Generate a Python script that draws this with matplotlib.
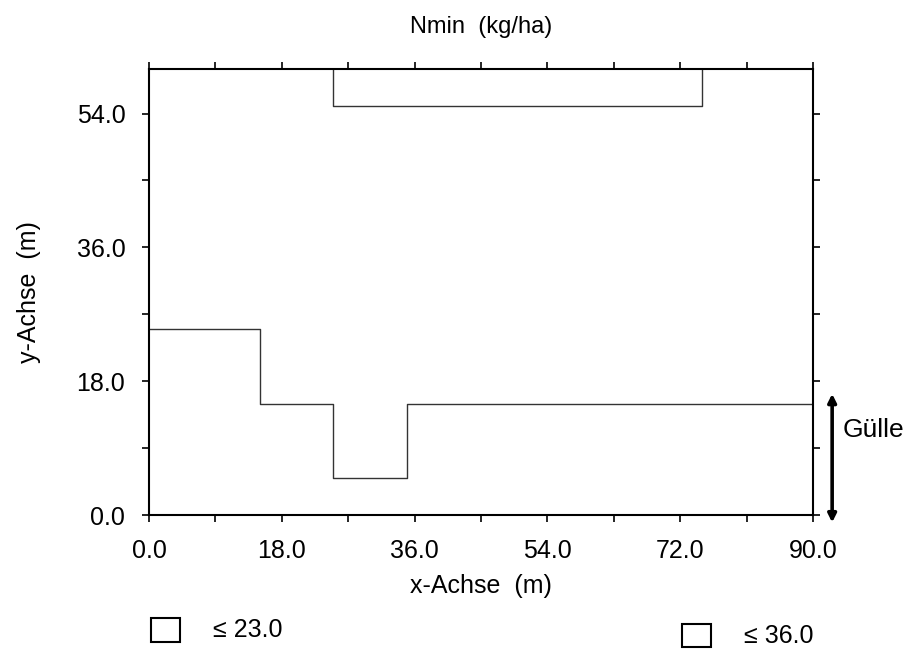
import matplotlib.pyplot as plt
from matplotlib.patches import Rectangle

# contour boundaries of Nmin (x, y in m)
lower_x = [0, 15, 15, 25, 25, 35, 35, 90]
lower_y = [25, 25, 15, 15, 5, 5, 15, 15]
upper_x = [25, 25, 75, 75]
upper_y = [60, 55, 55, 60]

levels = [23.0, 36.0]
major_ticks = [0, 18, 36, 54, 72, 90]
minor_ticks = [9, 27, 45, 63, 81]
gulle_y = (-1.0, 16.3)

plt.rcParams["font.family"] = ["Liberation Sans Narrow", "Liberation Sans", "DejaVu Sans"]

fig = plt.figure(figsize=(9.04, 6.52), dpi=100)
ax = fig.add_axes([0.1648, 0.2101, 0.7345, 0.6841])

ax.plot(lower_x, lower_y, color="#333333", lw=1.0)
ax.plot(upper_x, upper_y, color="#333333", lw=1.0)

ax.set_xlim(0, 90)
ax.set_ylim(0, 60)
ax.set_xticks(major_ticks)
ax.set_yticks(major_ticks[:4])
ax.set_xticks(minor_ticks, minor=True)
ax.set_yticks(minor_ticks[:3], minor=True)
ax.set_xticklabels([f"{v:.1f}" for v in major_ticks])
ax.set_yticklabels([f"{v:.1f}" for v in major_ticks[:4]])
ax.tick_params(which="both", direction="out", length=5, width=1.2,
               top=True, right=True, labelsize=18, pad=12)
for s in ax.spines.values():
    s.set_linewidth(1.5)

ax.set_title("Nmin  (kg/ha)", fontsize=17, pad=26)
ax.set_xlabel("x-Achse  (m)", fontsize=18, labelpad=8)
ax.set_ylabel("y-Achse  (m)", fontsize=18, labelpad=26)

# Guelle arrow on the right
ax.annotate("", xy=(92.6, gulle_y[0]), xytext=(92.6, gulle_y[1]),
            xycoords="data", annotation_clip=False,
            arrowprops=dict(arrowstyle="<|-|>", color="black", lw=2.6,
                            mutation_scale=12, shrinkA=0, shrinkB=0))
ax.text(94.0, 11.5, "Gülle", fontsize=19, va="center", ha="left",
        family=["Liberation Sans", "DejaVu Sans"], clip_on=False)

# level key below the plot
key_pos = [(0.167, 0.016, 0.236), (0.754, 0.007, 0.823)]
for lev, (kx, ky, tx) in zip(levels, key_pos):
    fig.patches.append(Rectangle((kx, ky), 0.032, 0.036, transform=fig.transFigure,
                                 facecolor="white", edgecolor="black", lw=1.5))
    fig.text(tx, ky + 0.018, f"≤ {lev:.1f}", fontsize=18, va="center", ha="left")

fig.savefig("out.png", dpi=100)
